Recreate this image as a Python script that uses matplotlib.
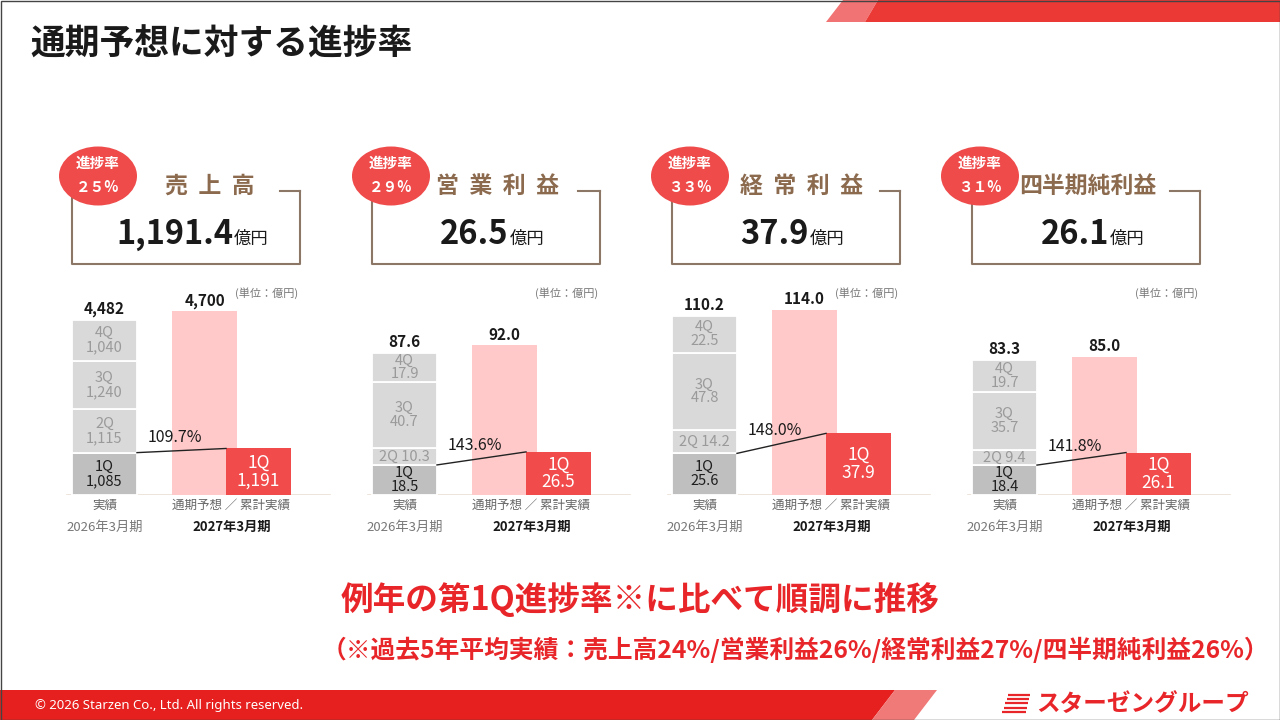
import numpy as np
import matplotlib
matplotlib.use('Agg')
from matplotlib import pyplot as plt
from matplotlib.patches import Ellipse, Polygon, Rectangle

plt.rcParams['font.family'] = ['Noto Sans CJK JP', 'DejaVu Sans']

# Data (units: 億円)
titles = ['売  上  高', '営  業  利  益', '経  常  利  益', '四半期純利益']
progressRates = [25, 29, 33, 31]
ytdValues = ['1,191.4', '26.5', '37.9', '26.1']
quarterNames = ['1Q', '2Q', '3Q', '4Q']
prevQuarters = [[1085, 1115, 1240, 1040],
                [18.5, 10.3, 40.7, 17.9],
                [25.6, 14.2, 47.8, 22.5],
                [18.4, 9.4, 35.7, 19.7]]
prevTotals = [4482, 87.6, 110.2, 83.3]
forecasts = [4700, 92.0, 114.0, 85.0]
q1Current = [1191, 26.5, 37.9, 26.1]
yoyRates = [109.7, 143.6, 148.0, 141.8]
numFormats = ['{:,.0f}', '{:.1f}', '{:.1f}', '{:.1f}']

# Layout (pixels)
boxLeft = [72, 372, 672, 972]
bubbleX = [98, 391, 690, 980]
titleX = [210, 497, 802, 1088]
titleEnd = [280, 578, 880, 1170]
yLimits = [5120, 123, 123, 123]

RED = '#E8262A'
BROWN = '#8C7766'
TITLE_BROWN = '#8B6A4E'

fig = plt.figure(figsize=(12.8, 7.2), dpi=100)
bg = fig.add_axes([0, 0, 1, 1])
bg.set_xlim(0, 1280)
bg.set_ylim(720, 0)
bg.axis('off')

# Top stripe
bg.add_patch(Polygon([(826, 22), (843, 0), (878, 0), (865, 22)], closed=True, color='#F27373', lw=0))
bg.add_patch(Polygon([(865, 22), (878, 0), (1280, 0), (1280, 22)], closed=True, color='#EB3A35', lw=0))

# Footer bar
bg.add_patch(Polygon([(0, 690), (895, 690), (872, 720), (0, 720)], closed=True, color='#E5201E', lw=0))
bg.add_patch(Polygon([(872, 720), (895, 690), (937, 690), (914, 720)], closed=True, color='#F07A78', lw=0))
bg.text(35, 706, '© 2026 Starzen Co., Ltd. All rights reserved.', color='white', fontsize=9.5,
        family=['Noto Sans', 'DejaVu Sans'], ha='left', va='center')

# Logo
for k in range(5):
    yy = 695 + k * 4.2
    bg.plot([1002 + (4 - k) * 1.5, 1030 - k * 1.0], [yy, yy], color=RED, lw=1.6, solid_capstyle='butt')
bg.text(1036, 704, 'スターゼングループ', color=RED, fontsize=17, fontweight='bold', ha='left', va='center')

# Title
bg.text(30, 44, '通期予想に対する進捗率', fontsize=25, fontweight='bold', color='#1A1A1A', ha='left', va='center')

# Bottom messages
bg.text(640, 600, '例年の第1Q進捗率※に比べて順調に推移', fontsize=23.5, fontweight='bold', color=RED,
        ha='center', va='center')
bg.text(795, 650, '（※過去5年平均実績：売上高24%/営業利益26%/経常利益27%/四半期純利益26%）',
        fontsize=17.8, fontweight='bold', color=RED, ha='center', va='center')

renderer = fig.canvas.get_renderer()
fullWidth = str.maketrans('0123456789', '０１２３４５６７８９')

for i in range(4):
    L = boxLeft[i]
    R = L + 228
    # Box
    bg.plot([L, L, R, R], [191, 264, 264, 191], color=BROWN, lw=1.5)
    bg.plot([titleEnd[i], R], [191, 191], color=BROWN, lw=1.5)
    bg.text(titleX[i], 186, titles[i], fontsize=16.5, fontweight='bold', color=TITLE_BROWN,
            ha='center', va='center')
    # Bubble
    bg.add_patch(Ellipse((bubbleX[i], 176), 78, 59, color='#EF4B4B', lw=0, zorder=3))
    bg.text(bubbleX[i], 163, '進捗率', fontsize=10.5, fontweight='bold', color='white',
            ha='center', va='center', zorder=4)
    bg.text(bubbleX[i], 187, str(progressRates[i]).translate(fullWidth) + '%', fontsize=10.5,
            fontweight='bold', color='white', ha='center', va='center', zorder=4)
    # Value inside box
    t1 = bg.text(0, 244, ytdValues[i], fontsize=23.5, fontweight='bold', color='#1A1A1A',
                 ha='left', va='baseline')
    t2 = bg.text(0, 244, '億円', fontsize=12.5, color='#1A1A1A', ha='left', va='baseline')
    w1 = t1.get_window_extent(renderer).width
    w2 = t2.get_window_extent(renderer).width
    start = (L + R) / 2 + 6 - (w1 + w2) / 2
    t1.set_x(start)
    t2.set_x(start + w1 + 1)

    # Bar chart
    ax = fig.add_axes([(L - 40) / 1280, (720 - 495) / 720, 300 / 1280, 200 / 720])
    ax.set_xlim(-0.725, 2.275)
    ax.set_ylim(0, yLimits[i])
    ax.set_facecolor('none')
    ax.axis('off')
    ax.plot([-0.37, 2.25], [0, 0], color='#EADFD5', lw=1.2, zorder=0)

    fmt = numFormats[i]
    bottom = 0
    for q in range(4):
        v = prevQuarters[i][q]
        col = '#BFBFBF' if q == 0 else '#D9D9D9'
        ax.bar(0, v, 0.65, bottom=bottom, color=col, edgecolor='white', linewidth=1.3, zorder=2)
        segPx = v / yLimits[i] * 200
        txtCol = '#1E1E1E' if q == 0 else '#9A9A9A'
        if segPx < 25:
            lbl = quarterNames[q] + ' ' + fmt.format(v)
        else:
            lbl = quarterNames[q] + '\n' + fmt.format(v)
        ax.text(0, bottom + v / 2, lbl, ha='center', va='center', fontsize=10.5, color=txtCol,
                linespacing=1.0, zorder=3)
        bottom += v
    ax.annotate(fmt.format(prevTotals[i]) if i == 0 else '{:.1f}'.format(prevTotals[i]),
                (0, bottom), xytext=(0, 2), textcoords='offset points', ha='center', va='bottom',
                fontsize=11, color='#1A1A1A', fontweight='bold')

    ax.bar(1, forecasts[i], 0.65, color='#FFC9C9', zorder=1)
    ax.annotate(fmt.format(forecasts[i]) if i == 0 else '{:.1f}'.format(forecasts[i]),
                (1, forecasts[i]), xytext=(0, 2), textcoords='offset points', ha='center', va='bottom',
                fontsize=11, color='#1A1A1A', fontweight='bold')

    ax.bar(1.54, q1Current[i], 0.65, color='#F24B4B', zorder=2)
    ax.text(1.54, q1Current[i] / 2, '1Q\n' + fmt.format(q1Current[i]), ha='center', va='center',
            fontsize=12.5, color='white', linespacing=1.0, zorder=3)

    # Year-over-year connector
    ax.plot([0.325, 1.54 - 0.325], [prevQuarters[i][0], q1Current[i]], color='#222222', lw=1, zorder=4)
    ax.annotate('{:.1f}%'.format(yoyRates[i]), (0.7, (prevQuarters[i][0] + q1Current[i]) / 2),
                xytext=(0, 3), textcoords='offset points', ha='center', va='bottom', fontsize=11.5,
                color='#1A1A1A', zorder=5)

    # Axis labels
    xt = ax.get_xaxis_transform()
    ax.text(0, -0.05, '実績', transform=xt, ha='center', va='center', fontsize=9, color='#666666')
    ax.text(1.27, -0.05, '通期予想 ／ 累計実績', transform=xt, ha='center', va='center', fontsize=9,
            color='#666666')
    ax.text(0, -0.16, '2026年3月期', transform=xt, ha='center', va='center', fontsize=9.5, color='#777777')
    ax.text(1.27, -0.16, '2027年3月期', transform=xt, ha='center', va='center', fontsize=9.5,
            color='#1A1A1A', fontweight='bold')
    ax.text(1.625, 1.01, '(単位：億円)', transform=xt, ha='center', va='center', fontsize=8,
            color='#777777')

# Frame around the slide
bg.add_patch(Rectangle((0.5, 0.5), 1279, 719, fill=False, edgecolor='#444444', lw=1, zorder=10))

fig.savefig('out.png', dpi=100)
